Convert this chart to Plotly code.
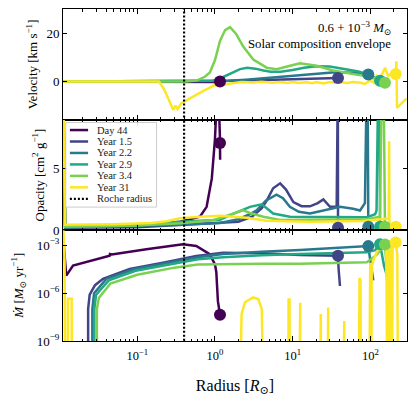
import plotly.graph_objects as go
from plotly.subplots import make_subplots

labels = ["Day 44", "Year 1.5", "Year 2.2", "Year 2.9", "Year 3.4", "Year 31"]
colors = ["#440154", "#414487", "#2a788e", "#22a884", "#7ad151", "#fde725"]
roche_radius = 0.40

# (radius [Rsun], velocity [km/s])
velocity_day44 = [(0.0111, 0), (0.1, 0), (0.5, 0), (0.9, 0), (1.16, -0.2)]
velocity_year1p5 = [(0.0111, 0), (0.6, 0), (1.2, 0.2), (2.5, 0.5), (5, 0.8), (10, 1.1),
                    (20, 1.4), (38.3, 1.5)]
velocity_year2p2 = [(0.0111, 0), (0.8, 0), (1.5, 0.3), (2.5, 0.8), (4, 1.4), (7, 2.0),
                    (12, 2.6), (20, 3.3), (35, 3.9), (60, 3.7), (94, 3.0)]
velocity_year2p9 = [(0.0111, 0), (0.6, 0), (0.9, 0.3), (1.16, 1.3), (1.6, 3.3), (2.1, 5.2),
                    (2.6, 5.8), (3.3, 5.4), (4.2, 4.6), (5.2, 4.1), (7, 4.1), (10, 4.8),
                    (14, 5.8), (20, 6.4), (30, 6.3), (45, 5.4), (70, 4.2), (100, 2.8),
                    (133, 0.3)]
velocity_year3p4 = [(0.0111, 0), (0.41, 0), (0.58, 0.4), (0.74, 2.0), (0.86, 3.8), (1.0, 9.0),
                    (1.16, 17.0), (1.35, 21.5), (1.56, 22.7), (1.86, 20.0), (2.31, 14.6),
                    (3.11, 9.2), (4.63, 5.8), (6.2, 5.2), (9, 6.5), (12.4, 7.6), (20.4, 6.6),
                    (33, 4.6), (60, 3.2), (90, 2.2), (133, 0.4), (154, -0.5)]
velocity_year31 = [(0.0111, 0), (0.19, 0), (0.22, -3), (0.25, -7), (0.27, -9.5), (0.29, -11.8),
                   (0.31, -10), (0.33, -11.5), (0.37, -9), (0.41, -8.2), (0.5, -6.5),
                   (0.59, -5), (0.7, -4), (0.86, -2.5), (0.95, -1.6), (1.1, -1.5), (1.5, -0.8),
                   (2.2, -0.2), (3, -0.4), (4, -0.1), (5.5, -0.5), (7, -0.2), (8.5, -0.6),
                   (10, -0.2), (12, -0.6), (15, -0.3), (18, -0.7), (20, -0.2), (25, -0.8),
                   (30, -0.2), (35, -0.5), (40, -0.2), (50, -0.6), (60, -0.2), (75, -0.5),
                   (85, -1.0), (100, 0.5), (110, -0.5), (120, 2.4), (133, 1.0), (154, 5.8),
                   (169, 2.4), (197, 3.8), (212, 3.2), (216, 8.5), (220, -11), (293, -7)]

# (radius [Rsun], opacity [cm^2/g])
kappa_day44 = [(0.0111, 12), (0.0118, 0.3), (0.1, 0.4), (0.355, 0.7), (0.64, 1.1), (0.78, 1.9),
               (0.91, 4.2), (1.0, 7.4), (1.05, 10.5), (1.12, 10.5), (1.155, 7.7),
               (1.165, 5.7), (1.16, 7.06)]
kappa_year1p5 = [(0.0111, 12), (0.0118, 0.2), (0.1, 0.25), (0.36, 0.45), (1.0, 0.55),
                 (2.0, 0.7), (3.0, 1.1), (4.0, 1.8), (4.63, 2.4), (5.6, 3.4), (6.9, 3.8),
                 (8.2, 3.3), (10.2, 2.28), (13, 1.95), (16.7, 1.94), (21, 2.2), (24.8, 2.5),
                 (30.2, 1.9), (36.8, 1.9), (37.5, 12), (38.1, 12), (38.3, 0.2)]
kappa_year2p2 = [(0.0111, 12), (0.0118, 0.25), (0.36, 0.45), (1.16, 0.6), (2.0, 0.9),
                 (2.8, 1.3), (3.44, 1.62), (4.5, 2.4), (6.2, 2.88), (7.5, 2.6), (9.2, 1.9),
                 (12, 1.5), (16.7, 1.36), (25, 1.6), (40.6, 1.9), (60, 1.75), (73.5, 1.6),
                 (85, 2.2), (89.6, 12), (92, 12), (94, 0.3)]
kappa_year2p9 = [(0.0111, 12), (0.0118, 0.25), (0.1, 0.4), (0.36, 0.7), (1.16, 0.85),
                 (1.56, 1.23), (2.82, 1.9), (4.0, 2.1), (4.8, 1.7), (5.6, 1.36), (9.2, 1.1),
                 (16.7, 1.1), (50, 1.05), (89.6, 1.05), (115, 1.3), (120, 1.6), (126, 12),
                 (131, 12), (133, 0.3)]
kappa_year3p4 = [(0.0111, 12), (0.0118, 0.3), (0.1, 0.4), (0.36, 0.57), (0.97, 0.84),
                 (1.56, 1.3), (2.31, 1.62), (2.82, 1.4), (4.2, 1.1), (6.9, 0.84), (16.7, 0.85),
                 (89.6, 0.9), (133, 1.1), (140, 12), (148, 12), (154, 0.3)]
kappa_year31 = [(0.0111, 12), (0.0118, 0.45), (0.05, 0.5), (0.15, 0.6), (0.24, 0.73),
                (0.355, 0.97), (0.64, 1.1), (1.16, 1.18), (1.7, 1.1), (2.56, 1.02),
                (4.6, 0.78), (16.7, 0.7), (80, 0.75), (147, 0.9), (172, 0.95), (174, 7.2),
                (176, 0.3), (212, 0.3), (240, 0.2)]

# (radius [Rsun], log10 Mdot [Msun/yr])
mdot_day44 = [(0.0111, -2.5), (0.0118, -4.3), (0.0122, -4.9), (0.0149, -4.27), (0.0441, -3.65),
              (0.0445, -3.55), (0.047, -3.58), (0.131, -3.24), (0.387, -2.93), (0.574, -3.04),
              (0.855, -3.55), (1.0, -4.2), (1.04, -4.68), (1.09, -6.5), (1.16, -7.36)]
mdot_year1p5 = [(0.0233, -12), (0.0233, -7.0), (0.0244, -6.1), (0.0286, -5.5), (0.0362, -5.1),
                (0.0798, -4.48), (0.214, -4.09), (0.574, -3.67), (1.27, -3.47), (4, -3.5),
                (12.4, -3.6), (38.3, -3.65), (39, -4.5), (40.6, -5.55)]
mdot_year2p2 = [(0.0264, -12), (0.0264, -7.0), (0.0278, -6.0), (0.04, -5.1), (0.09, -4.5),
                (0.24, -4.1), (0.6, -3.75), (1.27, -3.55), (4, -3.4), (12.4, -3.3),
                (40, -3.15), (94, -3.05), (100, -4.0), (109, -5.2)]
mdot_year2p9 = [(0.028, -12), (0.028, -7.0), (0.0295, -6.1), (0.043, -5.2), (0.095, -4.6),
                (0.25, -4.2), (0.6, -3.88), (1.27, -3.75), (4, -3.62), (12.4, -3.55),
                (40, -3.5), (90, -3.44), (115, -3.3), (133, -2.93), (150, -4.3), (175, -5.4)]
mdot_year3p4 = [(0.0302, -12), (0.0302, -7.0), (0.032, -6.3), (0.045, -5.4), (0.1, -4.85),
                (0.3, -4.4), (0.6, -4.2), (1.27, -4.17), (4, -4.15), (12.4, -4.15),
                (40, -4.12), (90, -4.06), (120, -3.6), (154, -2.95), (162, -4.5), (170, -6.5)]
mdot_year31 = [(0.0111, -1.5), (0.0116, -4.0), (0.0118, -12), (0.0127, -12), (0.0128, -6.35),
               (0.0143, -6.35), (0.0144, -12), (2.1, -12), (2.2, -7.3), (2.43, -6.57),
               (3.1, -6.27), (3.6, -6.37), (4.0, -7.0), (4.18, -12), (8.8, -12), (8.85, -6.4),
               (9.1, -6.4), (9.15, -12), (12.2, -12), (12.25, -6.6), (12.5, -6.6),
               (12.55, -12), (22.6, -12), (22.65, -7.3), (23.0, -7.3), (23.05, -12),
               (28.2, -12), (28.25, -6.9), (28.6, -6.9), (28.65, -12), (45.3, -12),
               (45.35, -7.75), (46.0, -7.75), (46.05, -12), (71, -12), (71.3, -5.6),
               (72.5, -5.05), (74.5, -5.2), (75.5, -12), (97, -12), (97.5, -4.2),
               (99.5, -4.1), (100, -12), (103, -12), (104, -4.3), (112, -3.8), (122, -3.4),
               (133, -3.2), (145, -3.1), (160, -3.0), (165, -12), (170, -12), (172, -3.0),
               (182, -2.9), (185, -12), (190, -12), (193, -3.0), (202, -2.9), (212, -2.83),
               (222, -3.6), (226, -12)]

# end-of-profile markers
marker_radius = [1.16, 38.3, 94, 133, 154, 212]
marker_velocity = [0, 1.5, 3.0, 0.3, -0.5, 3.2]
marker_kappa = [7.06, 0.2, 0.3, 0.3, 0.3, 0.3]
marker_mdot_log = [-7.36, -3.65, -3.05, -2.93, -2.95, -2.83]

velocity = [velocity_day44, velocity_year1p5, velocity_year2p2, velocity_year2p9,
            velocity_year3p4, velocity_year31]
kappa = [kappa_day44, kappa_year1p5, kappa_year2p2, kappa_year2p9, kappa_year3p4, kappa_year31]
mdot = [mdot_day44, mdot_year1p5, mdot_year2p2, mdot_year2p9, mdot_year3p4, mdot_year31]

SERIF = "Liberation Serif, DejaVu Serif, serif"

fig = make_subplots(rows=3, cols=1, shared_xaxes=True, vertical_spacing=0)

for i, color in enumerate(colors):
    for row, profile, as_log in ((1, velocity[i], False), (2, kappa[i], False), (3, mdot[i], True)):
        r, val = zip(*profile)
        if as_log:
            val = [10 ** v for v in val]
        fig.add_trace(go.Scatter(x=list(r), y=list(val), mode="lines", name=labels[i],
                                 line=dict(color=color, width=2.5), showlegend=False),
                      row=row, col=1)

for i, color in enumerate(colors):
    for row, yv in ((1, marker_velocity[i]), (2, marker_kappa[i]),
                    (3, 10 ** marker_mdot_log[i])):
        fig.add_trace(go.Scatter(x=[marker_radius[i]], y=[yv], mode="markers",
                                 marker=dict(color=color, size=12), showlegend=False),
                      row=row, col=1)

for row, yspan in ((1, [-20, 35]), (2, [-1, 10]), (3, [1e-12, 1])):
    fig.add_trace(go.Scatter(x=[roche_radius, roche_radius], y=yspan, mode="lines",
                             line=dict(color="black", width=2.2, dash="2px,2px"),
                             showlegend=False), row=row, col=1)

minor_vals = [k * 10 ** d for d in range(-2, 3) for k in range(2, 10)]
fig.update_xaxes(type="log", range=[-1.956, 2.471], showline=True, linecolor="black",
                 linewidth=1, mirror="allticks", ticks="inside", ticklen=5, tickcolor="black",
                 showgrid=False, zeroline=False, tickvals=[0.1, 1, 10, 100],
                 ticktext=["10<sup>−1</sup>", "10<sup>0</sup>", "10<sup>1</sup>", "10<sup>2</sup>"],
                 tickfont=dict(family=SERIF, size=12.5, color="black"), ticklabelstandoff=3,
                 minor=dict(tickvals=minor_vals, ticks="inside", ticklen=2.5,
                            tickcolor="black", showgrid=False))
fig.update_xaxes(title=dict(text="Radius [<i>R</i><sub>⊙</sub>]", standoff=17,
                            font=dict(family=SERIF, size=16, color="black")), row=3, col=1)

fig.update_yaxes(showline=True, linecolor="black", linewidth=1, mirror="allticks",
                 ticks="inside", ticklen=4, tickcolor="black", showgrid=False, zeroline=False,
                 tickfont=dict(family=SERIF, size=13, color="black"))
fig.update_yaxes(range=[-15.9, 30.3], tickvals=[0, 20], row=1, col=1)
fig.update_yaxes(range=[0, 8.95], tickvals=[0, 5], row=2, col=1)
fig.update_yaxes(type="log", range=[-9, -2.06], tickvals=[1e-9, 1e-6, 1e-3], row=3, col=1,
                 ticktext=["10<sup>−9</sup>", "10<sup>−6</sup>", "10<sup>−3</sup>"])

annotations = []
# y-axis titles, placed like matplotlib's (each sits just left of its own tick labels)
y_titles = [("Velocity [km s<sup>−1</sup>]", "y domain", 32),
            ("Opacity [cm<sup>2</sup> g<sup>−1</sup>]", "y2 domain", 38.5),
            ("<i>Ṁ</i> [<i>M</i><sub>⊙</sub> yr<sup>−1</sup>]", "y3 domain", 18)]
for text, yref, xpx in y_titles:
    annotations.append(dict(text=text, xref="paper", yref=yref, x=(xpx - 63) / 344, y=0.5,
                            xanchor="center", yanchor="middle", textangle=-90,
                            showarrow=False, font=dict(family=SERIF, size=13, color="black")))

# legend drawn by hand in the middle panel (matplotlib-like compact spacing)
shapes = [dict(type="rect", xref="x2 domain", yref="y2 domain", x0=0.008, x1=0.272,
               y0=0.21, y1=0.974, line=dict(color="#cccccc", width=1),
               fillcolor="rgba(255,255,255,0.85)", layer="above")]
entries = list(zip(labels, colors, ["solid"] * 6)) + [("Roche radius", "black", "2px,2px")]
for j, (lab, col, dash) in enumerate(entries):
    yd = (236 - (132.7 + 11.8 * j)) / 114
    shapes.append(dict(type="line", xref="x2 domain", yref="y2 domain", x0=0.02, x1=0.073,
                       y0=yd, y1=yd, line=dict(color=col, width=2.5 if dash == "solid" else 2.2,
                                               dash=dash), layer="above"))
    annotations.append(dict(text=lab, xref="x2 domain", yref="y2 domain", x=0.093, y=yd,
                            xanchor="left", yanchor="middle", showarrow=False,
                            font=dict(family=SERIF, size=10.5, color="#222222")))

annotations.append(dict(text="0.6 + 10<sup>−3</sup> <i>M</i><sub>⊙</sub>", xref="x domain",
                        yref="y domain", x=0.959, y=0.825, xanchor="right", yanchor="middle",
                        showarrow=False, font=dict(family=SERIF, size=12.8, color="black")))
annotations.append(dict(text="Solar composition envelope", xref="x domain", yref="y domain",
                        x=0.959, y=0.684, xanchor="right", yanchor="middle", showarrow=False,
                        font=dict(family=SERIF, size=12.8, color="black")))

fig.update_layout(width=416, height=399, margin=dict(l=63, r=9, t=8, b=50),
                  paper_bgcolor="white", plot_bgcolor="white", showlegend=False,
                  font=dict(family=SERIF, color="black"), shapes=shapes,
                  annotations=annotations)

# the page body has a default 8px margin; remove it so the figure sits at the origin
fig.write_html("out.html", config={"displayModeBar": False},
               post_script="document.body.style.margin='0';")
